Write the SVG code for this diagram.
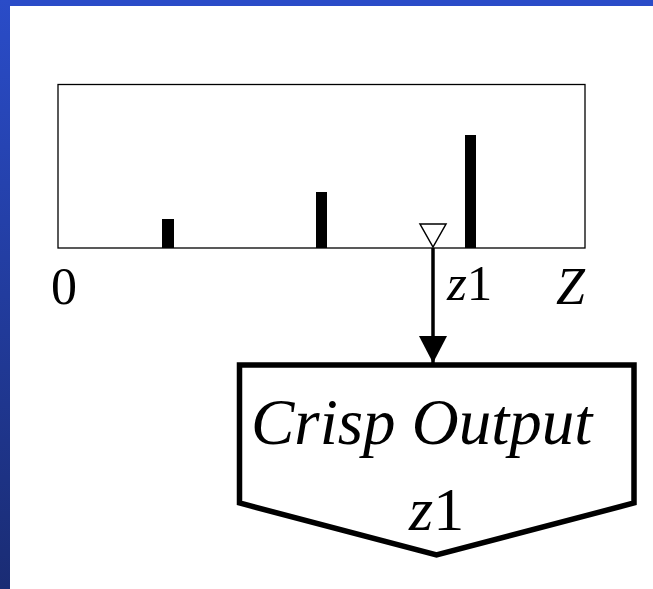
<svg xmlns="http://www.w3.org/2000/svg" width="653" height="589" viewBox="0 0 653 589">
  <defs>
    <linearGradient id="side" x1="0" y1="0" x2="0" y2="1">
      <stop offset="0" stop-color="#2a4cc8"/>
      <stop offset="1" stop-color="#1a2c74"/>
    </linearGradient>
    <marker id="arrow" markerUnits="userSpaceOnUse" markerWidth="28" markerHeight="30" refX="27" refY="14" orient="auto">
      <path d="M0,0 L27,14 L0,28 Z" fill="#000"/>
    </marker>
  </defs>
  <style>
    .t { font-family: "Liberation Serif", "Times New Roman", serif; fill: #000; }
    .it { font-style: italic; }
    .bar { fill: #000; }
  </style>
  <rect x="0" y="0" width="653" height="589" fill="#fff"/>
  <rect x="0" y="0" width="653" height="6" fill="#2a4cc8"/>
  <rect x="0" y="0" width="10" height="589" fill="url(#side)"/>

  <g id="chart">
    <rect x="58" y="84.5" width="527" height="163.5" fill="#fff" stroke="#000" stroke-width="1.3"/>
    <rect class="bar" x="162" y="219" width="12" height="29"/>
    <rect class="bar" x="316" y="192" width="11" height="56"/>
    <rect class="bar" x="465" y="135" width="11" height="113"/>
    <path d="M420,224 L446,224 L433,247 Z" fill="#fff" stroke="#000" stroke-width="1.5"/>
    <text class="t" x="51" y="304" font-size="52">0</text>
    <text class="t it" x="556" y="304" font-size="52">Z</text>
    <text class="t" x="447" y="300" font-size="51"><tspan class="it">z</tspan>1</text>
  </g>

  <g id="connectors">
    <line x1="433" y1="248" x2="433" y2="363" stroke="#000" stroke-width="3.5" marker-end="url(#arrow)"/>
  </g>

  <g id="output">
    <path d="M239.5,365 L634,365 L634,503 L436.5,555 L239.5,503 Z" fill="#fff" stroke="#000" stroke-width="5.5" stroke-linejoin="miter"/>
    <text class="t it" x="251" y="444" font-size="65">Crisp Output</text>
    <text class="t" x="409" y="530" font-size="62"><tspan class="it">z</tspan>1</text>
  </g>
</svg>
